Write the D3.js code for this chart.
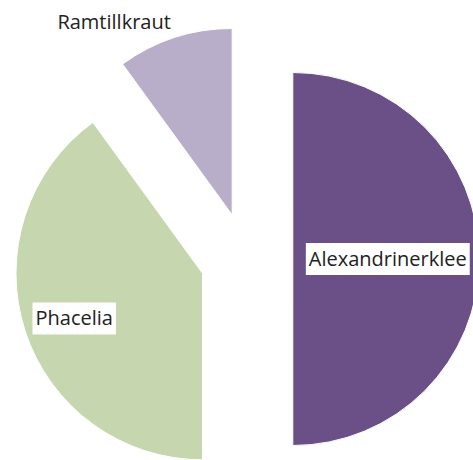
<!DOCTYPE html>
<html>
<head>
<meta charset="utf-8">
<script src="https://cdn.jsdelivr.net/npm/d3@7"></script>
<style>
    body { margin: 0; background: #fff; }
    svg { display: block; }
    .label { font-family: "Open Sans", sans-serif; font-size: 20px; fill: #222; font-variant-ligatures: none; }
</style>
</head>
<body>
<div id="chart"></div>
<script>
// slice data, clockwise from 12 o'clock
var categories = ['Alexandrinerklee', 'Phacelia', 'Ramtillkraut'];
var values = [50, 40, 10];
var colors = ['#6a5087', '#c6d6ae', '#b9aec9'];

// set the dimensions of the graph
var width = 473,
    height = 460,
    cx = 246.5,
    cy = 259,
    radius = 186.5,
    explode = 46.3;

// where each label sits relative to its (exploded) slice centre: [distance, angle in degrees]
var labelPos = [[95, 90], [136, 250.6], [226, 328.5]];
var labelBox = [true, true, false];

var data = categories.map(function (c, i) {
    return {name: c, value: values[i], color: colors[i]};
});

var svg = d3.select('#chart').append('svg')
    .attr('width', width)
    .attr('height', height);

var pie = d3.pie()
    .sort(null)
    .value(function (d) { return d.value; });

var arc = d3.arc()
    .innerRadius(0)
    .outerRadius(radius);

var arcs = pie(data);

function sliceCenter(d) {
    var mid = (d.startAngle + d.endAngle) / 2;
    return [cx + Math.sin(mid) * explode, cy - Math.cos(mid) * explode];
}

var slices = svg.selectAll('g.slice')
    .data(arcs)
    .enter().append('g')
    .attr('class', 'slice')
    .attr('transform', function (d) {
        var c = sliceCenter(d);
        return 'translate(' + c[0] + ',' + c[1] + ')';
    });

slices.append('path')
    .attr('d', arc)
    .style('fill', function (d) { return d.data.color; })
    .style('stroke', '#fff')
    .style('stroke-width', 1);

// labels
slices.each(function (d, i) {
    var g = d3.select(this);
    var a = labelPos[i][1] * Math.PI / 180;
    var lx = Math.sin(a) * labelPos[i][0];
    var ly = -Math.cos(a) * labelPos[i][0];
    var box = g.append('rect').style('fill', '#fff');
    var t = g.append('text')
        .attr('class', 'label')
        .attr('x', lx)
        .attr('y', ly)
        .attr('text-anchor', 'middle')
        .attr('dy', '0.35em')
        .text(d.data.name);
    var bb = t.node().getBBox();
    if (labelBox[i]) {
        box.attr('x', bb.x - 3)
            .attr('y', bb.y - 2)
            .attr('width', bb.width + 6)
            .attr('height', bb.height + 5);
    } else {
        box.remove();
    }
});
</script>
</body>
</html>
